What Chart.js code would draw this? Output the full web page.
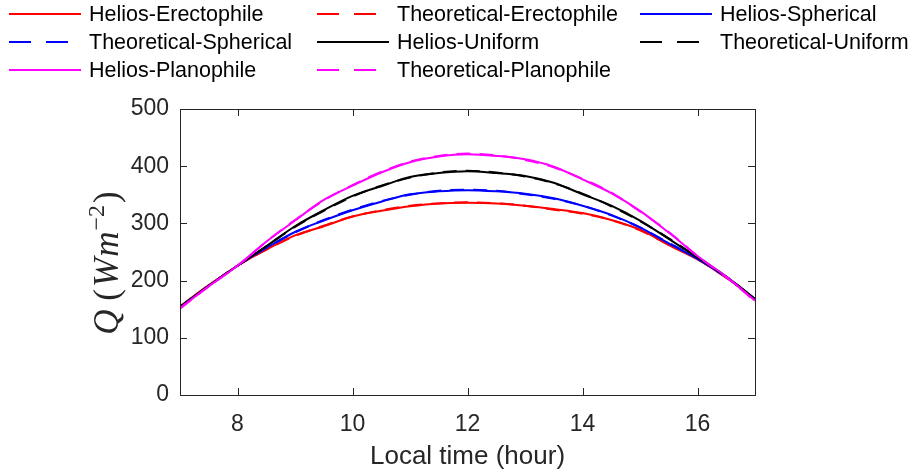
<!DOCTYPE html>
<html>
<head>
<meta charset="utf-8">
<script src="https://cdn.jsdelivr.net/npm/chart.js@4.4.1/dist/chart.umd.min.js"></script>
<style>
  html, body { margin: 0; padding: 0; background: #fff; }
  #wrap { width: 915px; height: 473px; }
</style>
</head>
<body>
<div id="wrap"><canvas id="radiation" width="915" height="473"></canvas></div>
<script>
// local time, hours
const hours = [7, 7.5, 8, 8.5, 9, 9.5, 10, 10.5, 11, 11.5, 12, 12.5, 13, 13.5, 14, 14.5, 15, 15.5, 16, 16.5, 17]
const xTicks = [8, 10, 12, 14, 16]
const yTicks = [0, 100, 200, 300, 400, 500]

// Q (W m^-2)
const heliosErecto  = [155, 192, 226, 254, 279, 295, 312, 322, 330, 335, 336, 335, 331, 325, 318, 306, 289, 262, 237, 205, 168]
const theoErecto    = [154, 191, 226, 254, 278, 296, 312, 323, 331, 335, 337, 335, 331, 324, 317, 306, 288, 263, 238, 205, 168]
const heliosSpher   = [154, 191, 226, 257, 285, 305, 323, 338, 351, 356, 358, 356, 352, 344, 331, 315, 293, 265, 238, 206, 168]
const theoSpher     = [154, 191, 226, 257, 284, 306, 324, 339, 350, 357, 359, 357, 351, 343, 331, 314, 293, 266, 239, 206, 168]
const heliosUniform = [154, 191, 226, 260, 295, 323, 348, 365, 381, 388, 391, 388, 383, 371, 351, 331, 305, 273, 240, 207, 168]
const theoUniform   = [154, 191, 226, 260, 294, 322, 347, 366, 380, 389, 392, 389, 382, 370, 352, 330, 304, 274, 241, 207, 168]
const heliosPlano   = [152, 190, 226, 268, 305, 341, 366, 389, 407, 417, 421, 418, 412, 399, 377, 353, 322, 284, 243, 207, 165]
const theoPlano     = [151, 190, 226, 268, 306, 340, 367, 390, 408, 418, 422, 419, 411, 398, 378, 354, 321, 285, 243, 206, 164]

const seriesNames = ['Helios-Erectophile', 'Theoretical-Erectophile', 'Helios-Spherical',
  'Theoretical-Spherical', 'Helios-Uniform', 'Theoretical-Uniform',
  'Helios-Planophile', 'Theoretical-Planophile']
const seriesValues = [heliosErecto, theoErecto, heliosSpher, theoSpher, heliosUniform, theoUniform, heliosPlano, theoPlano]
const seriesColors = ['#ff0000', '#ff0000', '#0000ff', '#0000ff', '#000000', '#000000', '#ff00ff', '#ff00ff']

const sans = '"Liberation Sans", Arial, Helvetica, sans-serif'
const serif = '"Liberation Serif", "Times New Roman", serif'
const axisColor = '#262626'

const datasets = seriesValues.map((vals, i) => ({
  label: seriesNames[i],
  data: vals.map((v, j) => ({x: hours[j], y: v})),
  borderColor: seriesColors[i],
  borderWidth: 2,
  borderDash: i % 2 ? [14, 9] : [],
  pointRadius: 0,
  cubicInterpolationMode: 'monotone',
  order: seriesValues.length - i   // later series drawn on top, like matlab
}))

// legend in three fixed columns above the axes
const gridLegend = {
  id: 'gridLegend',
  afterDraw(chart) {
    const ctx = chart.ctx
    const cols = [9, 317, 640]
    const rows = [14, 42, 70]
    chart.data.datasets.forEach((ds, i) => {
      const lx = cols[i % 3], y = rows[Math.floor(i / 3)]
      ctx.save()
      ctx.strokeStyle = ds.borderColor
      ctx.lineWidth = 2
      ctx.setLineDash(ds.borderDash.length ? [22, 15] : [])
      ctx.beginPath()
      ctx.moveTo(lx, y)
      ctx.lineTo(lx + 72, y)
      ctx.stroke()
      ctx.setLineDash([])
      ctx.fillStyle = '#000'
      ctx.font = '21.5px ' + sans
      ctx.textBaseline = 'middle'
      ctx.fillText(ds.label, lx + 80, y + 1)
      ctx.restore()
    })
  }
}

// box with inward ticks + latex-ish y label
const boxAxes = {
  id: 'boxAxes',
  afterDraw(chart) {
    const {ctx, chartArea: a} = chart
    const sx = chart.scales.x, sy = chart.scales.y
    const tl = 7
    ctx.save()
    ctx.strokeStyle = axisColor
    ctx.lineWidth = 1
    ctx.strokeRect(Math.round(a.left) + 0.5, Math.round(a.top) + 0.5, Math.round(a.right - a.left), Math.round(a.bottom - a.top))
    ctx.beginPath()
    sx.ticks.forEach(t => {
      const px = Math.round(sx.getPixelForValue(t.value)) + 0.5
      ctx.moveTo(px, a.bottom); ctx.lineTo(px, a.bottom - tl)
      ctx.moveTo(px, a.top); ctx.lineTo(px, a.top + tl)
    })
    sy.ticks.forEach(t => {
      const py = Math.round(sy.getPixelForValue(t.value)) + 0.5
      ctx.moveTo(a.left, py); ctx.lineTo(a.left + tl, py)
      ctx.moveTo(a.right, py); ctx.lineTo(a.right - tl, py)
    })
    ctx.stroke()

    // Q (Wm^{-2})
    const parts = [
      {t: 'Q', f: 'italic 35px ' + serif, dy: 0, gap: 0},
      {t: ' (', f: '35px ' + serif, dy: 0, gap: 2},
      {t: 'W', f: 'italic 35px ' + serif, dy: 0, gap: 1},
      {t: 'm', f: 'italic 35px ' + serif, dy: 0, gap: 1},
      {t: '\u22122', f: '24px ' + serif, dy: -14, gap: 2},
      {t: ')', f: '35px ' + serif, dy: 0, gap: 0}
    ]
    let total = 0
    parts.forEach(p => { ctx.font = p.f; p.w = ctx.measureText(p.t).width + p.gap; total += p.w })
    ctx.translate(107, 263)
    ctx.rotate(-Math.PI / 2)
    ctx.fillStyle = axisColor
    ctx.textBaseline = 'alphabetic'
    let cx = -total / 2
    parts.forEach(p => {
      ctx.font = p.f
      ctx.fillText(p.t, cx, 11 + p.dy)
      cx += p.w
    })
    ctx.restore()
  }
}

new Chart(document.getElementById('radiation').getContext('2d'), {
  type: 'line',
  data: { datasets: datasets },
  options: {
    responsive: false,
    animation: false,
    devicePixelRatio: 1,
    layout: { padding: { top: 109, right: 160, left: 0, bottom: 0 } },
    plugins: { legend: { display: false }, tooltip: { enabled: false } },
    scales: {
      x: {
        type: 'linear', min: 7, max: 17,
        afterBuildTicks: s => { s.ticks = xTicks.map(v => ({value: v})) },
        afterFit: s => { s.height = 78 },
        grid: { display: false, drawTicks: false },
        border: { display: false },
        ticks: { font: { size: 23, family: sans }, color: axisColor, padding: 16, maxRotation: 0 },
        title: { display: true, text: 'Local time (hour)', color: axisColor,
                 font: { size: 26, family: sans }, padding: { top: 0, bottom: 1 } }
      },
      y: {
        min: 0, max: 500,
        afterBuildTicks: s => { s.ticks = yTicks.map(v => ({value: v})) },
        afterFit: s => { s.width = 180 },
        grid: { display: false, drawTicks: false },
        border: { display: false },
        ticks: { font: { size: 23, family: sans }, color: axisColor, padding: 11 }
      }
    }
  },
  plugins: [gridLegend, boxAxes]
})
</script>
</body>
</html>
